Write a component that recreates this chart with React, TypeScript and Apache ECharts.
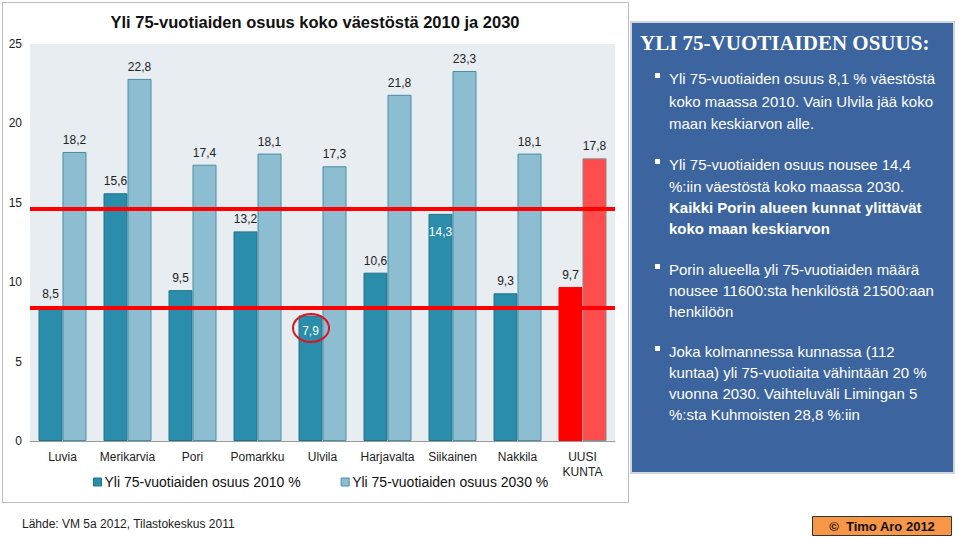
import React, { useEffect, useRef } from "react";
import * as echarts from "echarts";

const categories = ["Luvia", "Merikarvia", "Pori", "Pomarkku", "Ulvila", "Harjavalta", "Siikainen", "Nakkila", "UUSI\nKUNTA"];
const share2010 = [8.5, 15.6, 9.5, 13.2, 7.9, 10.6, 14.3, 9.3, 9.7];
const share2030 = [18.2, 22.8, 17.4, 18.1, 17.3, 21.8, 23.3, 18.1, 17.8];
const nationalLines = [14.6, 8.4];
const yTicks = { min: 0, max: 25, interval: 5 };

const seriesNames = ["Yli 75-vuotiaiden osuus 2010 %", "Yli 75-vuotiaiden osuus 2030 %"];
const insideLabels2010 = [6, 4];

const panelLines: { text: string; y: number; bold?: boolean; bullet?: boolean }[] = [
  { text: "Yli 75-vuotiaiden osuus 8,1 % väestöstä", y: 78, bullet: true },
  { text: "koko maassa 2010. Vain Ulvila jää koko", y: 101 },
  { text: "maan keskiarvon alle.", y: 123 },
  { text: "Yli 75-vuotiaiden osuus nousee 14,4", y: 164, bullet: true },
  { text: "%:iin väestöstä koko maassa 2030.", y: 186 },
  { text: "Kaikki Porin alueen kunnat ylittävät", y: 207, bold: true },
  { text: "koko maan keskiarvon", y: 228, bold: true },
  { text: "Porin alueella yli 75-vuotiaiden määrä", y: 269, bullet: true },
  { text: "nousee 11600:sta henkilöstä 21500:aan", y: 290 },
  { text: "henkilöön", y: 311 },
  { text: "Joka kolmannessa kunnassa (112", y: 351, bullet: true },
  { text: "kuntaa) yli 75-vuotiaita vähintään 20 %", y: 372 },
  { text: "vuonna 2030. Vaihteluväli Limingan 5", y: 393 },
  { text: "%:sta Kuhmoisten 28,8 %:iin", y: 414 },
];

const FONT = "'Liberation Sans', Arial, sans-serif";

export default function App() {
  const ref = useRef<HTMLDivElement>(null);
  useEffect(() => {
    if (!ref.current) return;
    const chart = echarts.init(ref.current, null, { renderer: "svg" });
    const last = categories.length - 1;

    const d2010 = share2010.map((v, i) => {
      const item: any = { value: v };
      if (insideLabels2010.includes(i)) {
        item.label = { position: "insideTop", color: "#ffffff", distance: i === 6 ? 12 : 9 };
      }
      if (i === last) item.itemStyle = { color: "#ff0000", borderColor: "#ff0000" };
      return item;
    });
    const d2030 = share2030.map((v, i) => {
      const item: any = { value: v };
      if (i === last) item.itemStyle = { color: "#ff4c4c", borderColor: "#8a8a8a" };
      return item;
    });

    const graphic: any[] = [
      {
        type: "text",
        x: 315,
        y: 22,
        style: {
          text: "Yli 75-vuotiaiden osuus koko väestöstä 2010 ja 2030",
          fill: "#111",
          font: `bold 16.5px ${FONT}`,
          textAlign: "center",
          textVerticalAlign: "middle",
        },
      },
      {
        type: "ellipse",
        shape: { cx: 311, cy: 328, rx: 18, ry: 14 },
        style: { fill: "none", stroke: "#e0141e", lineWidth: 2 },
        z: 50,
      },
      {
        type: "rect",
        shape: { x: 631, y: 22, width: 323, height: 451 },
        style: { fill: "#3c649f", stroke: "#cfd6de", lineWidth: 2 },
        z: 100,
      },
      {
        type: "text",
        x: 640,
        y: 43,
        style: {
          text: "YLI 75-VUOTIAIDEN OSUUS:",
          fill: "#ffffff",
          font: `bold 21px 'Liberation Serif', 'Times New Roman', serif`,
          textVerticalAlign: "middle",
        },
        z: 101,
      },
      {
        type: "text",
        x: 22,
        y: 524,
        style: {
          text: "Lähde: VM 5a 2012, Tilastokeskus 2011",
          fill: "#222",
          font: `12px ${FONT}`,
          textVerticalAlign: "middle",
        },
      },
      {
        type: "rect",
        shape: { x: 812.5, y: 516.5, width: 139, height: 19 },
        style: { fill: "#f79646", stroke: "#333", lineWidth: 1 },
        z: 100,
      },
      {
        type: "text",
        x: 882,
        y: 526,
        style: {
          text: "©  Timo Aro 2012",
          fill: "#111",
          font: `bold 13px ${FONT}`,
          textAlign: "center",
          textVerticalAlign: "middle",
        },
        z: 101,
      },
    ];
    panelLines.forEach((l) => {
      if (l.bullet) {
        graphic.push({
          type: "rect",
          shape: { x: 655, y: l.y - 5, width: 5, height: 5 },
          style: { fill: "#ffffff" },
          z: 101,
        });
      }
      graphic.push({
        type: "text",
        x: 669,
        y: l.y,
        style: {
          text: l.text,
          fill: "#ffffff",
          font: `${l.bold ? "bold " : ""}15px ${FONT}`,
          textVerticalAlign: "middle",
        },
        z: 101,
      });
    });

    chart.setOption({
      animation: false,
      textStyle: { fontFamily: FONT },
      grid: {
        left: 30,
        right: 344,
        top: 44,
        bottom: 96,
        show: true,
        backgroundColor: "#e7edf1",
        borderWidth: 0,
      },
      legend: {
        left: 88,
        top: 470,
        itemWidth: 8,
        itemHeight: 8,
        itemGap: 40,
        itemStyle: { borderWidth: 1 },
        icon: "rect",
        textStyle: { fontSize: 14, color: "#111", fontFamily: FONT, padding: [0, 0, 0, -2] },
        data: seriesNames,
      },
      xAxis: {
        type: "category",
        data: categories,
        axisLine: { lineStyle: { color: "#999", width: 1 } },
        axisTick: { show: false },
        axisLabel: { fontSize: 12, color: "#222", margin: 8, lineHeight: 15, interval: 0 },
      },
      yAxis: {
        type: "value",
        min: yTicks.min,
        max: yTicks.max,
        interval: yTicks.interval,
        splitLine: { show: false },
        axisLine: { show: false },
        axisTick: { show: false },
        axisLabel: { fontSize: 12, color: "#222", margin: 8 },
      },
      series: [
        {
          name: seriesNames[0],
          type: "bar",
          data: d2010,
          barWidth: 24,
          barGap: "0%",
          itemStyle: { color: "#2a8dab", borderColor: "#23728b", borderWidth: 1 },
          label: { show: true, position: "top", distance: 6, fontSize: 12, color: "#222",
            formatter: (p: any) => String(p.value).replace(".", ",") },
          markLine: {
            silent: true,
            symbol: "none",
            label: { show: false },
            lineStyle: { color: "#ff0000", width: 4, type: "solid" },
            data: nationalLines.map((v) => ({ yAxis: v })),
            z: 10,
          },
        },
        {
          name: seriesNames[1],
          type: "bar",
          data: d2030,
          barWidth: 24,
          barGap: "0%",
          itemStyle: { color: "#8dbdd0", borderColor: "#4a8ea4", borderWidth: 1 },
          label: { show: true, position: "top", distance: 6, fontSize: 12, color: "#222",
            formatter: (p: any) => String(p.value).replace(".", ",") },
        },
      ],
      graphic,
    });
    return () => chart.dispose();
  }, []);

  return (
    <div style={{ position: "fixed", left: 0, top: 0, width: 959, height: 537, background: "#fff" }}>
      <div style={{ position: "absolute", left: 2, top: 2, width: 625, height: 499, border: "1px solid #bdbdbd" }} />
      <div ref={ref} style={{ position: "absolute", left: 0, top: 0, width: 959, height: 537 }} />
    </div>
  );
}
